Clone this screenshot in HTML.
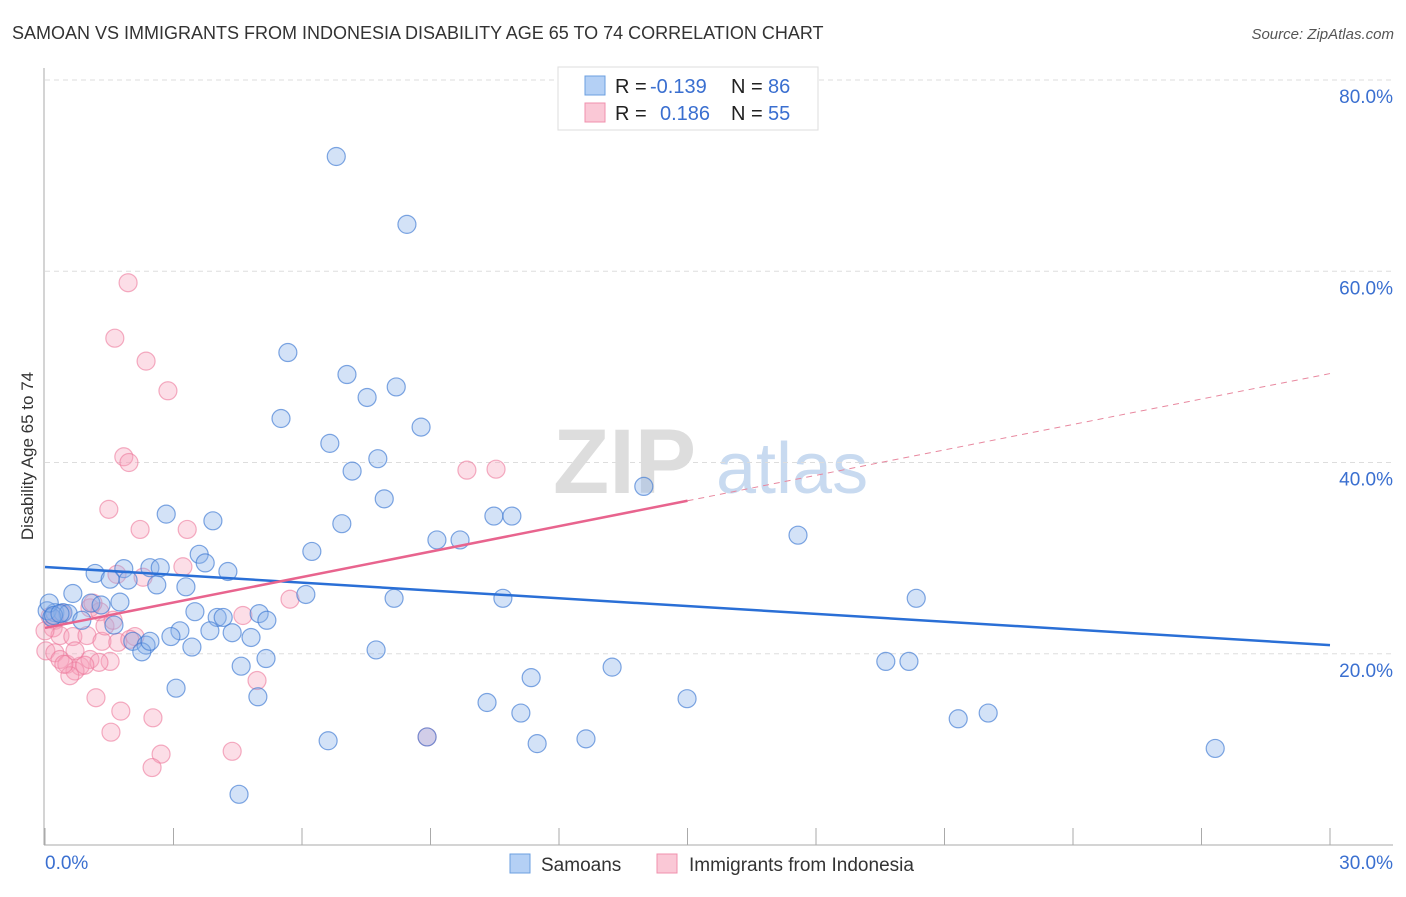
<!DOCTYPE html>
<html><head><meta charset="utf-8"><style>
body{margin:0;background:#fff;font-family:"Liberation Sans",sans-serif}
svg text{font-family:"Liberation Sans",sans-serif}
</style></head><body>
<svg id="chart" width="1406" height="892" xmlns="http://www.w3.org/2000/svg">
<text x="12" y="39" font-size="18" fill="#333">SAMOAN VS IMMIGRANTS FROM INDONESIA DISABILITY AGE 65 TO 74 CORRELATION CHART</text>
<text x="1394" y="39" font-size="15" fill="#555" text-anchor="end" font-style="italic">Source: ZipAtlas.com</text>
<text transform="translate(33,456) rotate(-90)" font-size="17" fill="#333" text-anchor="middle">Disability Age 65 to 74</text>
<g>
<text x="553" y="493" font-size="92" font-family="Liberation Serif,serif" fill="#ddd" font-weight="bold">ZIP</text>
<text x="716" y="493" font-size="72" fill="#c8daf0">atlas</text>
</g>
<g id="grid"></g><g id="axes"></g><g id="pts"></g><g id="lines"></g>
<g>
<rect x="558" y="67" width="260" height="63" fill="#fff" stroke="#ddd"/>
<rect x="585" y="76" width="20" height="19" fill="#b4d0f5" stroke="#6b9fe0"/>
<rect x="585" y="103" width="20" height="19" fill="#fac8d6" stroke="#f090ad"/>
<text x="615" y="93" font-size="20" fill="#222">R =</text><text x="650" y="93" font-size="20" fill="#3a6fd0">-0.139</text>
<text x="731" y="93" font-size="20" fill="#222">N =</text><text x="768" y="93" font-size="20" fill="#3a6fd0">86</text>
<text x="615" y="120" font-size="20" fill="#222">R =</text><text x="660" y="120" font-size="20" fill="#3a6fd0">0.186</text>
<text x="731" y="120" font-size="20" fill="#222">N =</text><text x="768" y="120" font-size="20" fill="#3a6fd0">55</text>
</g>
<g>
<rect x="510" y="854" width="20" height="19" fill="#b4d0f5" stroke="#6b9fe0"/>
<text x="541" y="871" font-size="19" fill="#333">Samoans</text>
<rect x="657" y="854" width="20" height="19" fill="#fac8d6" stroke="#f090ad"/>
<text x="689" y="871" font-size="19" fill="#333">Immigrants from Indonesia</text>
</g>
</svg>
<script>
const yTicks=[20,40,60,80];
const xTickLabels=["0.0%","30.0%"];
const blueX=[6.8,8.45,5.67,7.05,8.2,7.52,5.51,8.78,6.65,7.77,7.17,13.98,7.92,2.83,10.48,10.9,3.92,6.93,9.15,9.69,17.58,3.6,6.23,3.74,4.27,1.17,1.84,2.45,2.69,1.52,1.94,2.61,3.29,0.65,6.09,8.15,10.69,20.34,1.07,1.75,1.31,0.23,0.42,0.54,3.5,5.0,5.18,4.02,4.16,0.86,1.61,0.05,0.16,3.15,2.94,3.85,4.37,4.81,7.73,2.05,2.36,2.26,3.43,5.16,4.58,19.63,20.17,13.24,11.35,3.06,10.32,4.97,14.99,11.11,21.32,22.02,6.61,8.92,11.49,12.63,27.32,4.53,0.1,0.2,0.35,2.45];
const blueY=[72.0,64.9,51.5,49.2,47.9,46.8,44.6,43.7,42.0,40.4,39.1,37.5,36.2,34.6,34.4,34.4,33.9,33.6,31.9,31.9,32.4,30.4,30.7,29.5,28.6,28.4,28.9,29.0,29.0,27.8,27.7,27.2,27.0,26.3,26.2,25.8,25.8,25.8,25.3,25.4,25.1,24.3,24.3,24.2,24.4,24.2,23.5,23.8,23.8,23.5,23.0,24.5,23.8,22.4,21.8,22.4,22.2,21.7,20.4,21.3,20.9,20.2,20.7,19.5,18.7,19.2,19.2,18.6,17.5,16.4,14.9,15.5,15.3,13.8,13.2,13.8,10.9,11.3,10.6,11.1,10.1,5.3,25.3,24.0,24.2,21.3];
const pinkX=[1.94,1.63,2.36,2.87,1.84,1.96,1.49,2.22,3.32,9.85,10.53,3.22,1.68,2.29,5.72,1.05,1.28,1.12,4.62,0.12,0.23,0.19,0.35,0.65,0.98,1.33,1.7,2.1,0.02,0.23,0.35,0.51,0.82,1.05,1.52,0.7,0.58,1.26,4.95,1.19,1.77,2.52,1.54,4.37,2.71,2.5,8.92,0,0.44,0.7,0.93,1.4,0.4,1.98,1.59];
const pinkY=[58.8,53.0,50.6,47.5,40.6,40.0,35.1,33.0,33.0,39.2,39.3,29.1,28.3,28.0,25.7,24.8,24.4,25.3,24.0,23.9,23.5,22.7,21.9,21.8,21.9,21.3,21.2,21.8,20.3,20.1,19.4,18.9,18.7,19.4,19.2,18.2,17.7,19.1,17.2,15.4,14.0,13.3,11.8,9.8,9.5,8.1,11.3,22.4,18.9,20.3,18.8,22.9,24.2,21.5,23.5];
const blueTrend=[29.07,20.9];
const pinkTrend=[22.7,49.3];
const X0=45,X1=1330,Y0=845,pxPerPct=9.5625;
const sx=v=>X0+v*(X1-X0)/30, sy=v=>Y0-v*pxPerPct;
const NS="http://www.w3.org/2000/svg";
function mk(tag,attrs,parent){const e=document.createElementNS(NS,tag);for(const k in attrs)e.setAttribute(k,attrs[k]);parent.appendChild(e);return e;}
const grid=document.getElementById('grid'),axes=document.getElementById('axes'),pts=document.getElementById('pts'),lines=document.getElementById('lines');
yTicks.forEach(t=>{
 const l=mk('line',{x1:45,x2:1393,y1:sy(t),y2:sy(t),stroke:'#ddd','stroke-dasharray':'5,4'},grid);
 
 
 const tx=mk('text',{x:1393,y:sy(t)+23,'font-size':19,fill:'#3a6fd0','text-anchor':'end'},grid);
 tx.textContent=t.toFixed(1)+'%';
 
 
});
const ya=mk('line',{x1:44,x2:44,y1:68,y2:Y0,stroke:'#aaa'},axes);


const xa=mk('line',{x1:44,x2:1393,y1:Y0,y2:Y0,stroke:'#aaa'},axes);


for(let i=0;i<=10;i++){
 const t=mk('line',{x1:sx(i*3),x2:sx(i*3),y1:828,y2:Y0,stroke:'#aaa'},axes);
 
 
}
const xl0=mk('text',{x:45,y:869,'font-size':19,fill:'#3a6fd0'},axes);xl0.textContent=xTickLabels[0];


const xl1=mk('text',{x:1393,y:869,'font-size':19,fill:'#3a6fd0','text-anchor':'end'},axes);xl1.textContent=xTickLabels[1];


pinkX.forEach((x,i)=>{
 const c=mk('circle',{cx:sx(x),cy:sy(pinkY[i]),r:9,fill:'rgba(246,160,186,0.35)',stroke:'rgba(236,120,155,0.6)','stroke-width':1.2},pts);
 
 
});
blueX.forEach((x,i)=>{
 const c=mk('circle',{cx:sx(x),cy:sy(blueY[i]),r:9,fill:'rgba(140,180,235,0.38)',stroke:'rgba(60,120,210,0.65)','stroke-width':1.2},pts);
 
 
});
const bl=mk('line',{x1:sx(0),y1:sy(blueTrend[0]),x2:sx(30),y2:sy(blueTrend[1]),stroke:'#2a6fd6','stroke-width':2.5},lines);


const pm=pinkTrend[0]+(pinkTrend[1]-pinkTrend[0])*15/30;
const pl=mk('line',{x1:sx(0),y1:sy(pinkTrend[0]),x2:sx(15),y2:sy(pm),stroke:'#e8648e','stroke-width':2.5},lines);


const pd=mk('line',{x1:sx(15),y1:sy(pm),x2:sx(30),y2:sy(pinkTrend[1]),stroke:'#e8889f','stroke-width':1,'stroke-dasharray':'6,5'},lines);


</script>
</body></html>
